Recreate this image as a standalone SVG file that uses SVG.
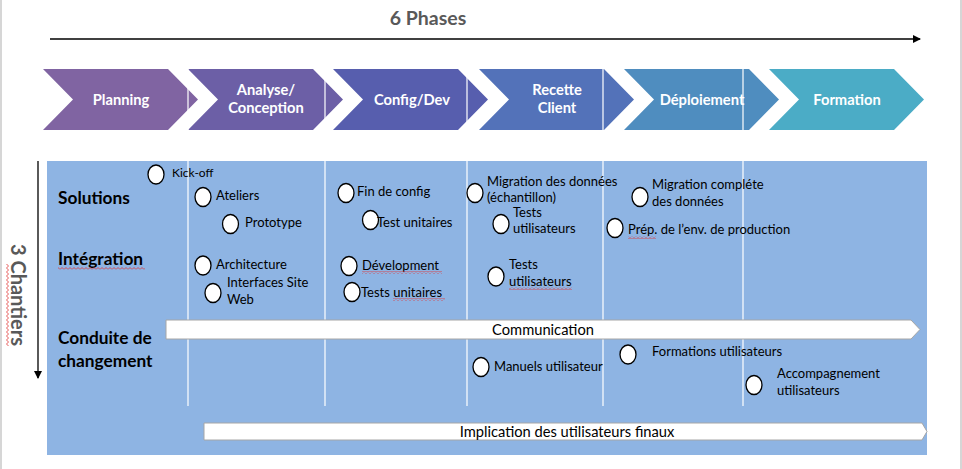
<svg xmlns="http://www.w3.org/2000/svg" width="962" height="469" viewBox="0 0 962 469">
<defs>
<style>
.t{font-family:Lato,"Liberation Sans",sans-serif;font-size:13px;fill:#000}
.s{font-size:12px}
.b{font-size:14.7px}
.ch{font-family:Lato,"Liberation Sans",sans-serif;font-size:14.7px;font-weight:bold;fill:#fff;text-anchor:middle}
.row{font-family:Lato,"Liberation Sans",sans-serif;font-size:17.3px;font-weight:bold;fill:#000}
.dot{fill:#fff;stroke:#000;stroke-width:1.3}
.sep{stroke:#fff;stroke-width:1.2}
.sq{fill:url(#sq)}
.bar{fill:#fff;stroke:#a6a6a6;stroke-width:1}
</style>
<pattern id="sq" width="4" height="3" patternUnits="userSpaceOnUse">
<polyline points="0,2.5 2,0.5 4,2.5" fill="none" stroke="#e03030" stroke-width="0.8"/>
</pattern>
<pattern id="sqv" width="3" height="4" patternUnits="userSpaceOnUse">
<polyline points="0.5,0 2.5,2 0.5,4" fill="none" stroke="#e03030" stroke-width="0.8"/>
</pattern>
<marker id="ah" markerWidth="8" markerHeight="8" refX="7" refY="4" orient="auto" markerUnits="userSpaceOnUse">
<path d="M0,0 L8,4 L0,8 Z" fill="#000"/>
</marker>
</defs>
<rect width="962" height="469" fill="#fff"/>
<line x1="1" y1="0" x2="1" y2="469" stroke="#c8c8c8" stroke-width="1.5"/>
<line x1="961" y1="0" x2="961" y2="469" stroke="#c8c8c8" stroke-width="1.5"/>

<text x="428" y="25" font-family="Lato,'Liberation Sans',sans-serif" font-size="19.5" font-weight="bold" fill="#595959" text-anchor="middle">6 Phases</text>

<g id="connectors">
<line x1="50" y1="39" x2="920" y2="39" stroke="#000" stroke-width="1.3" marker-end="url(#ah)"/>
<line x1="38" y1="161" x2="38" y2="378" stroke="#000" stroke-width="1.3" marker-end="url(#ah)"/>
</g>

<g id="phases">
<g id="p1"><path d="M43,69 H168 L198,99.5 L168,130 H43 L73,99.5 Z" fill="#8064A2"/><text class="ch" x="121" y="104.5">Planning</text></g>
<g id="p2"><path d="M188,69 H313 L343,99.5 L313,130 H188 L218,99.5 Z" fill="#6C5FA6"/><text class="ch" x="266" y="95">Analyse/</text><text class="ch" x="266" y="113">Conception</text></g>
<g id="p3"><path d="M333,69 H458 L488,99.5 L458,130 H333 L363,99.5 Z" fill="#575EAE"/><text class="ch" x="412" y="104.5">Config/Dev</text></g>
<g id="p4"><path d="M479,69 H604 L634,99.5 L604,130 H479 L509,99.5 Z" fill="#5372B9"/><text class="ch" x="557" y="95">Recette</text><text class="ch" x="557" y="113">Client</text></g>
<g id="p5"><path d="M624,69 H749 L779,99.5 L749,130 H624 L654,99.5 Z" fill="#4F8DBF"/><text class="ch" x="702" y="104.5">Déploiement</text></g>
<g id="p6"><path d="M769,69 H894 L924,99.5 L894,130 H769 L799,99.5 Z" fill="#4BACC6"/><text class="ch" x="847" y="104.5">Formation</text></g>
</g>

<rect x="47" y="161" width="880" height="294" fill="#8EB4E3"/>

<g id="separators">
<line class="sep" x1="188" y1="69" x2="188" y2="406"/>
<line class="sep" x1="325" y1="69" x2="325" y2="406"/>
<line class="sep" x1="467" y1="69" x2="467" y2="406"/>
<line class="sep" x1="603" y1="69" x2="603" y2="406"/>
<line class="sep" x1="743" y1="69" x2="743" y2="406"/>
</g>

<g id="chantiers">
<text transform="translate(11,295) rotate(90)" font-family="Lato,'Liberation Sans',sans-serif" font-size="20" font-weight="bold" fill="#595959" text-anchor="middle">3 Chantiers</text>
<rect x="6" y="264" width="3" height="82" fill="url(#sqv)"/>
</g>

<g id="rows">
<text class="row" x="58" y="204">Solutions</text>
<text class="row" x="58" y="265">Intégration</text>
<rect class="sq" x="58" y="267" width="87" height="3"/>
<text class="row" x="58" y="344">Conduite de</text>
<text class="row" x="58" y="367">changement</text>
</g>

<g id="bars">
<g id="communication"><path class="bar" d="M166,320 H911 L920,329.5 L911,339 H166 Z"/><text class="t b" x="543" y="335" text-anchor="middle">Communication</text></g>
<g id="implication"><path class="bar" d="M204,423 H922 L927,431.5 L922,440 H204 Z"/><text class="t b" x="567" y="437" text-anchor="middle">Implication des utilisateurs finaux</text></g>
</g>

<g id="kickoff"><ellipse class="dot" cx="156" cy="174.5" rx="8" ry="9.5"/><text class="t s" x="172" y="177">Kick-off</text></g>
<g id="ateliers"><ellipse class="dot" cx="203" cy="197" rx="8" ry="9.5"/><text class="t" x="216" y="200">Ateliers</text></g>
<g id="prototype"><ellipse class="dot" cx="230.5" cy="224" rx="8" ry="9.5"/><text class="t" x="245" y="227">Prototype</text></g>
<g id="architecture"><ellipse class="dot" cx="203" cy="265.5" rx="8" ry="9.5"/><text class="t" x="216" y="269">Architecture</text></g>
<g id="interfaces"><ellipse class="dot" cx="213" cy="293" rx="8" ry="9.5"/><text class="t" x="227" y="287">Interfaces Site</text><text class="t" x="227" y="304">Web</text></g>

<g id="finconfig"><ellipse class="dot" cx="346" cy="193" rx="8" ry="9.5"/><text class="t" x="357" y="196">Fin de config</text></g>
<g id="testunit1"><ellipse class="dot" cx="370.5" cy="220" rx="8" ry="9.5"/><text class="t" x="377" y="227">Test unitaires</text></g>
<g id="dev"><ellipse class="dot" cx="349" cy="266" rx="8" ry="9.5"/><text class="t" x="362" y="270">Dévelopment</text><rect class="sq" x="362" y="271" width="80" height="3"/></g>
<g id="testunit2"><ellipse class="dot" cx="352" cy="292" rx="8" ry="9.5"/><text class="t" x="361" y="297">Tests unitaires</text><rect class="sq" x="393" y="298" width="52" height="3"/></g>

<g id="migration1"><ellipse class="dot" cx="475" cy="193" rx="8" ry="9.5"/><text class="t" x="487" y="186">Migration des données</text><text class="t" x="487" y="202">(échantillon)</text></g>
<g id="testsutil1"><ellipse class="dot" cx="501" cy="224" rx="8" ry="9.5"/><text class="t" x="513" y="217">Tests</text><text class="t" x="513" y="233">utilisateurs</text></g>
<g id="testsutil2"><ellipse class="dot" cx="496" cy="276.5" rx="8" ry="9.5"/><text class="t" x="509" y="269">Tests</text><text class="t" x="509" y="286">utilisateurs</text><rect class="sq" x="509" y="287" width="63" height="3"/></g>

<g id="migration2"><ellipse class="dot" cx="640" cy="197" rx="8" ry="9.5"/><text class="t" x="652" y="189">Migration compléte</text><text class="t" x="652" y="206">des données</text></g>
<g id="prep"><ellipse class="dot" cx="615" cy="228" rx="8" ry="9.5"/><text class="t" x="628" y="234">Prép. de l’env. de production</text><rect class="sq" x="628" y="236" width="28" height="3"/></g>

<g id="manuels"><ellipse class="dot" cx="481" cy="367" rx="8" ry="9.5"/><text class="t" x="494" y="371">Manuels utilisateur</text></g>
<g id="formations"><ellipse class="dot" cx="628" cy="354.5" rx="8" ry="9.5"/><text class="t" x="652" y="356">Formations utilisateurs</text></g>
<g id="accompagnement"><ellipse class="dot" cx="754" cy="385" rx="8" ry="9.5"/><text class="t" x="777" y="378">Accompagnement</text><text class="t" x="777" y="395">utilisateurs</text></g>
</svg>
